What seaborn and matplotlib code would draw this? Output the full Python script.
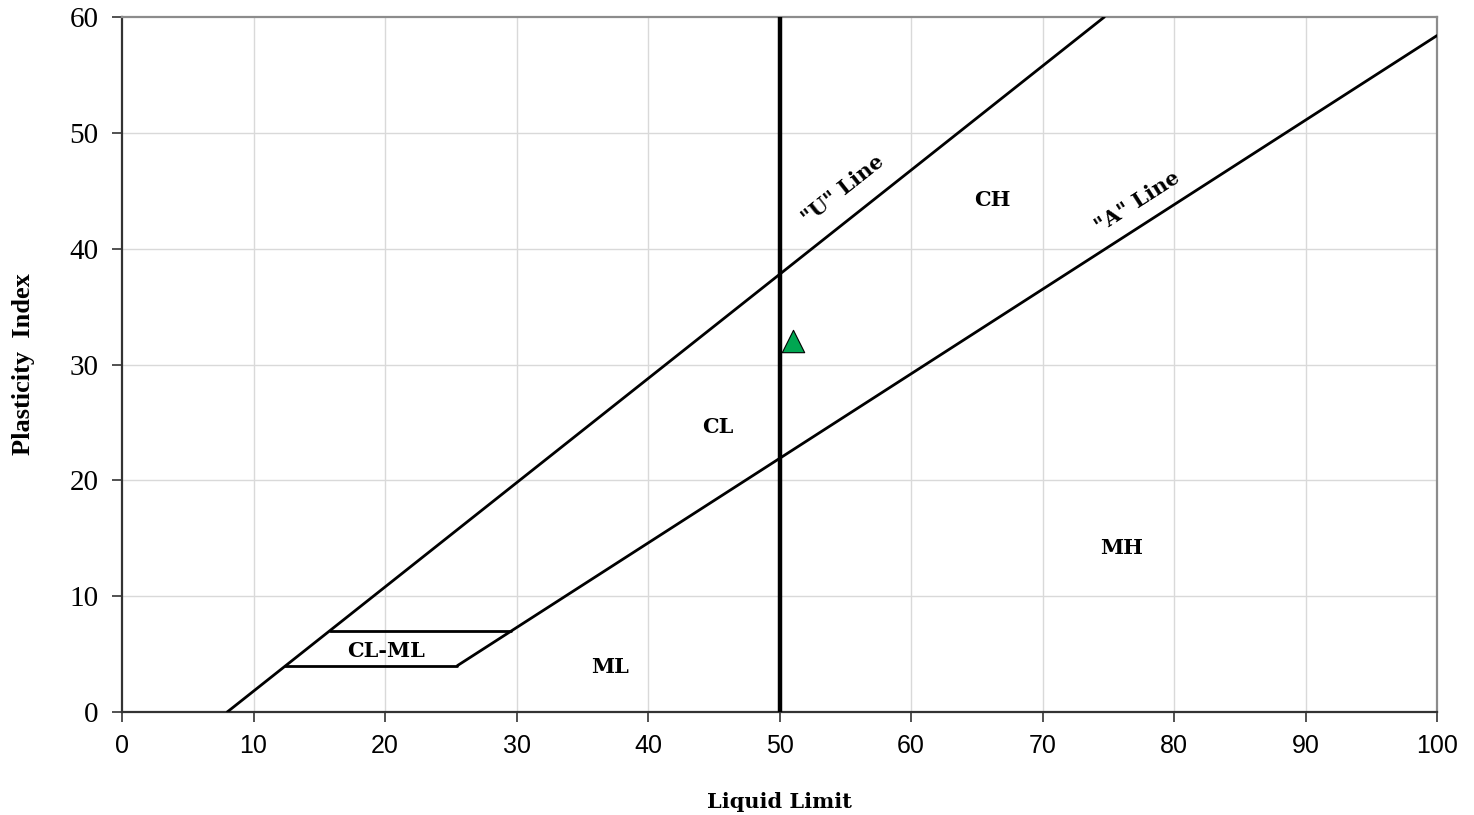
import matplotlib
matplotlib.use("Agg")
import matplotlib.pyplot as plt
import pandas as pd
import seaborn as sns

# lignes de la carte de plasticité (extrémités)
u_line_x = [8, 74.7]
u_line_y = [0, 60]
a_line_x = [25.5, 100]
a_line_y = [4, 58.4]
clml_top_x = [15.8, 29.6]
clml_top_y = [7, 7]
clml_bot_x = [12.4, 25.5]
clml_bot_y = [4, 4]
ll50_x = [50, 50]
ll50_y = [0, 60]

# échantillon
sample_ll = [51]
sample_pi = [32]

zone_labels = ["CH", "CL", "MH", "ML", "CL-ML"]
zone_x = [66.2, 45.3, 76.0, 37.1, 20.1]
zone_y = [44.2, 24.6, 14.2, 3.9, 5.3]

sns.set_style("white")
plt.rcParams["text.color"] = "black"

fig = plt.figure(figsize=(14.74, 8.15), dpi=100)
ax = fig.add_axes([0.0828, 0.1264, 0.8921, 0.8527])

# grille
for v in range(10, 100, 10):
    ax.axvline(v, color="#d9d9d9", lw=1, zorder=0)
for v in range(10, 60, 10):
    ax.axhline(v, color="#d9d9d9", lw=1, zorder=0)

segments = [
    (u_line_x, u_line_y, 2.0),
    (a_line_x, a_line_y, 2.0),
    (clml_top_x, clml_top_y, 2.0),
    (clml_bot_x, clml_bot_y, 2.0),
    (ll50_x, ll50_y, 3.2),
]
for xs, ys, lw in segments:
    d = pd.DataFrame({"x": xs, "y": ys})
    sns.lineplot(data=d, x="x", y="y", color="black", lw=lw, sort=False,
                 estimator=None, ax=ax, zorder=3)

sns.scatterplot(x=sample_ll, y=sample_pi, marker="^", s=260, color="#00a651",
                edgecolor="black", linewidth=0.8, ax=ax, zorder=5)

lab_font = dict(family="DejaVu Serif", weight="bold", size=15, color="black")
for t, x, y in zip(zone_labels, zone_x, zone_y):
    ax.text(x, y, t, ha="center", va="center", **lab_font)
ax.text(54.8, 45.1, '"U" Line', ha="center", va="center", rotation=38.4, **lab_font)
ax.text(77.2, 44.0, '"A" Line', ha="center", va="center", rotation=32.7, **lab_font)

ax.set_xlim(0, 100)
ax.set_ylim(0, 60)
ax.set_xticks(range(0, 101, 10))
ax.set_yticks(range(0, 61, 10))
ax.set_xticklabels([str(v) for v in range(0, 101, 10)], family="Liberation Sans", size=18)
ax.set_yticklabels([str(v) for v in range(0, 61, 10)], family="Liberation Serif", size=21)
ax.tick_params(axis="both", direction="out", length=7, width=1.2, color="#333333",
               labelcolor="black", bottom=True, left=True)
ax.tick_params(axis="x", pad=9)
ax.tick_params(axis="y", pad=10)

for s in ["left", "bottom"]:
    ax.spines[s].set_color("#333333")
    ax.spines[s].set_linewidth(1.6)
for s in ["top", "right"]:
    ax.spines[s].set_color("#8c8c8c")
    ax.spines[s].set_linewidth(1.6)

ax.set_xlabel("Liquid Limit", family="DejaVu Serif", weight="bold", size=15,
              color="black", labelpad=24)
ax.set_ylabel("Plasticity  Index", family="Liberation Serif", weight="bold", size=19,
              color="black", labelpad=25)

fig.savefig("out.png", dpi=100)
